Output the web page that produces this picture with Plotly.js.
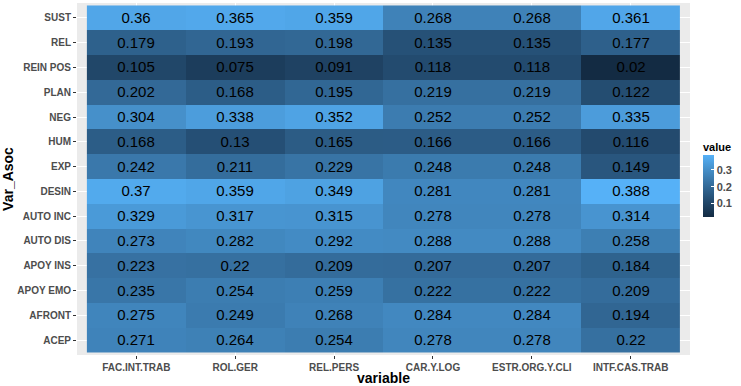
<!DOCTYPE html>
<html>
<head>
<meta charset="utf-8">
<script src="https://cdn.plot.ly/plotly-3.0.1.min.js"></script>
<style>html,body{margin:0;padding:0;background:#fff;}#chart{width:741px;height:386px;}</style>
</head>
<body>
<div id="chart"></div>
<script>
const variables = ["FAC.INT.TRAB", "ROL.GER", "REL.PERS", "CAR.Y.LOG", "ESTR.ORG.Y.CLI", "INTF.CAS.TRAB"];
// rows from top to bottom
const rowsTopDown = ["SUST", "REL", "REIN POS", "PLAN", "NEG", "HUM", "EXP", "DESIN", "AUTO INC", "AUTO DIS", "APOY INS", "APOY EMO", "AFRONT", "ACEP"];
const SUST = [0.36, 0.365, 0.359, 0.268, 0.268, 0.361];
const REL = [0.179, 0.193, 0.198, 0.135, 0.135, 0.177];
const REIN_POS = [0.105, 0.075, 0.091, 0.118, 0.118, 0.02];
const PLAN = [0.202, 0.168, 0.195, 0.219, 0.219, 0.122];
const NEG = [0.304, 0.338, 0.352, 0.252, 0.252, 0.335];
const HUM = [0.168, 0.13, 0.165, 0.166, 0.166, 0.116];
const EXP = [0.242, 0.211, 0.229, 0.248, 0.248, 0.149];
const DESIN = [0.37, 0.359, 0.349, 0.281, 0.281, 0.388];
const AUTO_INC = [0.329, 0.317, 0.315, 0.278, 0.278, 0.314];
const AUTO_DIS = [0.273, 0.282, 0.292, 0.288, 0.288, 0.258];
const APOY_INS = [0.223, 0.22, 0.209, 0.207, 0.207, 0.184];
const APOY_EMO = [0.235, 0.254, 0.259, 0.222, 0.222, 0.209];
const AFRONT = [0.275, 0.249, 0.268, 0.284, 0.284, 0.194];
const ACEP = [0.271, 0.264, 0.254, 0.278, 0.278, 0.22];
const valuesTopDown = [SUST, REL, REIN_POS, PLAN, NEG, HUM, EXP, DESIN, AUTO_INC, AUTO_DIS, APOY_INS, APOY_EMO, AFRONT, ACEP];
const legendTicks = [0.1, 0.2, 0.3];

const rows = rowsTopDown.slice().reverse();
const z = valuesTopDown.slice().reverse();
const text = z.map(r => r.map(v => String(v)));

const fontFam = "Liberation Sans, Arial, sans-serif";
const trace = {
  type: 'heatmap',
  x: variables,
  y: rows,
  z: z,
  text: text,
  texttemplate: '%{text}',
  textfont: {family: fontFam, size: 15, color: '#000'},
  colorscale: [[0, '#132B43'], [0.25, '#22496C'], [0.5, '#336A98'], [0.75, '#448DC6'], [1, '#56B1F7']],
  xgap: 0, ygap: 0,
  colorbar: {
    xref: 'container', yref: 'container',
    x: 703/741, xanchor: 'left',
    y: 1 - 170/386, yanchor: 'top',
    lenmode: 'pixels', len: 62,
    thicknessmode: 'pixels', thickness: 11,
    outlinewidth: 0,
    xpad: 0, ypad: 0,
    tickvals: legendTicks,
    ticktext: legendTicks.map(v => '<b>' + v + '</b>'),
    ticks: 'inside', ticklen: 3, tickcolor: '#fff', tickwidth: 1,
    tickfont: {family: fontFam, size: 11, color: '#4D4D4D'}
  }
};

const layout = {
  width: 741, height: 386,
  margin: {l: 77, r: 51, t: 3, b: 31, pad: 0},
  paper_bgcolor: '#fff',
  plot_bgcolor: '#EBEBEB',
  font: {family: fontFam},
  xaxis: {
    type: 'category',
    categoryarray: variables,
    range: [-0.6, variables.length - 0.4],
    showgrid: true, gridcolor: '#fff', gridwidth: 1,
    zeroline: false, showline: false,
    ticks: 'outside', ticklen: 3, tickcolor: '#333',
    tickfont: {family: fontFam, size: 10, color: '#4D4D4D', weight: 'bold'},
    title: {text: '<b>variable</b>', font: {family: fontFam, size: 14, color: '#000'}, standoff: 3}
  },
  yaxis: {
    type: 'category',
    categoryarray: rows,
    range: [-0.6, rows.length - 0.4],
    showgrid: true, gridcolor: '#fff', gridwidth: 1,
    zeroline: false, showline: false,
    ticks: 'outside', ticklen: 3, tickcolor: '#333',
    tickfont: {family: fontFam, size: 10, color: '#4D4D4D', weight: 'bold'},
    title: {text: '<b>Var_Asoc</b>', font: {family: fontFam, size: 14, color: '#000'}, standoff: 8}
  },
  annotations: [{
    text: '<b>value</b>', xref: 'paper', yref: 'paper',
    x: (701 - 77) / (741 - 77 - 51), y: 1 - (147 - 3) / (386 - 3 - 31),
    xanchor: 'left', yanchor: 'middle', showarrow: false,
    font: {family: fontFam, size: 11, color: '#000'}
  }]
};

Plotly.newPlot('chart', [trace], layout, {displayModeBar: false, staticPlot: true});
</script>
</body>
</html>
